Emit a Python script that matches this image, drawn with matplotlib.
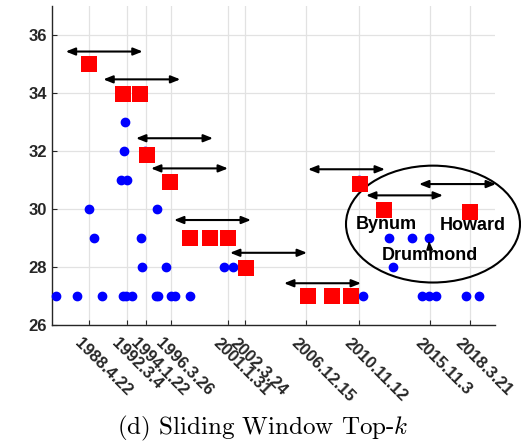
import matplotlib
matplotlib.use("Agg")
import matplotlib.pyplot as plt
import matplotlib.transforms as mtransforms
from matplotlib.patches import Ellipse

plt.rcParams["font.family"] = ["Liberation Sans", "DejaVu Sans"]
plt.rcParams["font.weight"] = "bold"
plt.rcParams["mathtext.fontset"] = "cm"

# Positions along the timeline (arbitrary index units) and the scores
dot_x = [4, 24.7, 50, 71, 74, 80.3, 103.5, 106, 118.5, 123, 138, 311.3, 370, 377.3, 384, 414.5, 427,
         89.5, 113.5, 172.5, 181, 341.3,
         41.7, 88.7, 337.2, 360, 377,
         36.7, 105,
         68.7, 75.2, 307,
         72.2, 92.5,
         73.2]
dot_y = [27] * 17 + [28] * 5 + [29] * 5 + [30] * 2 + [31] * 3 + [32] * 2 + [33]

top_x = [37, 70.8, 88, 95, 118.3, 138.3, 157.7, 176, 194, 256.3, 279.7, 299.2, 308, 331.7, 418.3]
top_y = [35, 33.97, 33.97, 31.85, 30.94, 29, 29, 29, 27.98, 27, 27, 27, 30.85, 29.97, 29.9]

# Sliding windows: start position and level of each window bar
window_start = [13.7, 51.3, 84, 99, 122, 178, 232, 256, 314, 367]
window_y = [35.43, 34.47, 32.44, 31.40, 29.62, 28.49, 27.44, 31.37, 30.47, 30.86]
window_len = 77

tick_x = [37.2, 74.8, 93.7, 118.7, 176.2, 192.8, 254, 307.3, 377.8, 418]
tick_labels = ["1988.4.22", "1992.3.4", "1994.1.22", "1996.3.26", "2001.1.31",
               "2002.3.24", "2006.12.15", "2010.11.12", "2015.11.3", "2018.3.21"]

fig = plt.figure(figsize=(5.21, 4.46), dpi=100)
ax = fig.add_axes([52 / 521, 1 - 325 / 446, (495 - 52) / 521, (325 - 6) / 446])

ax.plot(dot_x, dot_y, "o", color="#0000ff", mec="#0000ff", ms=6, zorder=3, clip_on=False)
ax.plot(top_x, top_y, "s", color="#ff0000", mew=0, ms=11.5, zorder=4, clip_on=False)

for s, y in zip(window_start, window_y):
    ax.annotate("", xy=(s + window_len, y), xytext=(s, y),
                arrowprops=dict(arrowstyle="<|-|>,head_length=0.55,head_width=0.22",
                                lw=1.5, color="k", shrinkA=0, shrinkB=0),
                zorder=5, annotation_clip=False)

ax.add_patch(Ellipse((381, 29.48), 174, 4.03, fill=False, lw=1.5, ec="k",
                     clip_on=False, zorder=2))

ax.text(334.7, 29.47, "Bynum", ha="center", va="center", fontsize=13, fontweight="bold", zorder=6)
ax.text(420.7, 29.44, "Howard", ha="center", va="center", fontsize=13, fontweight="bold", zorder=6)
ax.annotate("Drummond", xy=(376.8, 29.0), xytext=(378, 28.38), ha="center", va="center",
            fontsize=13, fontweight="bold", zorder=6,
            arrowprops=dict(arrowstyle="-|>,head_length=0.4,head_width=0.15", lw=1, color="k",
                            shrinkA=0, shrinkB=2))

ax.set_xlim(0, 443)
ax.set_ylim(26, 37)
ax.set_yticks([26, 28, 30, 32, 34, 36])
ax.set_xticks(tick_x)
ax.set_xticklabels(tick_labels, rotation=-45, ha="left", va="top", rotation_mode="anchor")

ax.grid(True, color="#e2e2e2", lw=0.9)
ax.set_axisbelow(True)
for side in ("top", "right"):
    ax.spines[side].set_visible(False)
for side in ("left", "bottom"):
    ax.spines[side].set_color("#262626")
    ax.spines[side].set_linewidth(1.0)
ax.tick_params(direction="in", length=3.5, width=0.8, colors="#262626", labelsize=12)
shift = mtransforms.ScaledTranslation(-7 / 100, -6 / 100, fig.dpi_scale_trans)
for lab in ax.get_xticklabels():
    lab.set_fontweight("bold")
    lab.set_transform(lab.get_transform() + shift)
for lab in ax.get_yticklabels():
    lab.set_fontweight("bold")

fig.text(263 / 521, 1 - 428 / 446, r"(d) Sliding Window Top-$k$", ha="center", va="center",
         fontsize=18, family="cmr10", fontweight="normal")

fig.savefig("out.png", dpi=100)
